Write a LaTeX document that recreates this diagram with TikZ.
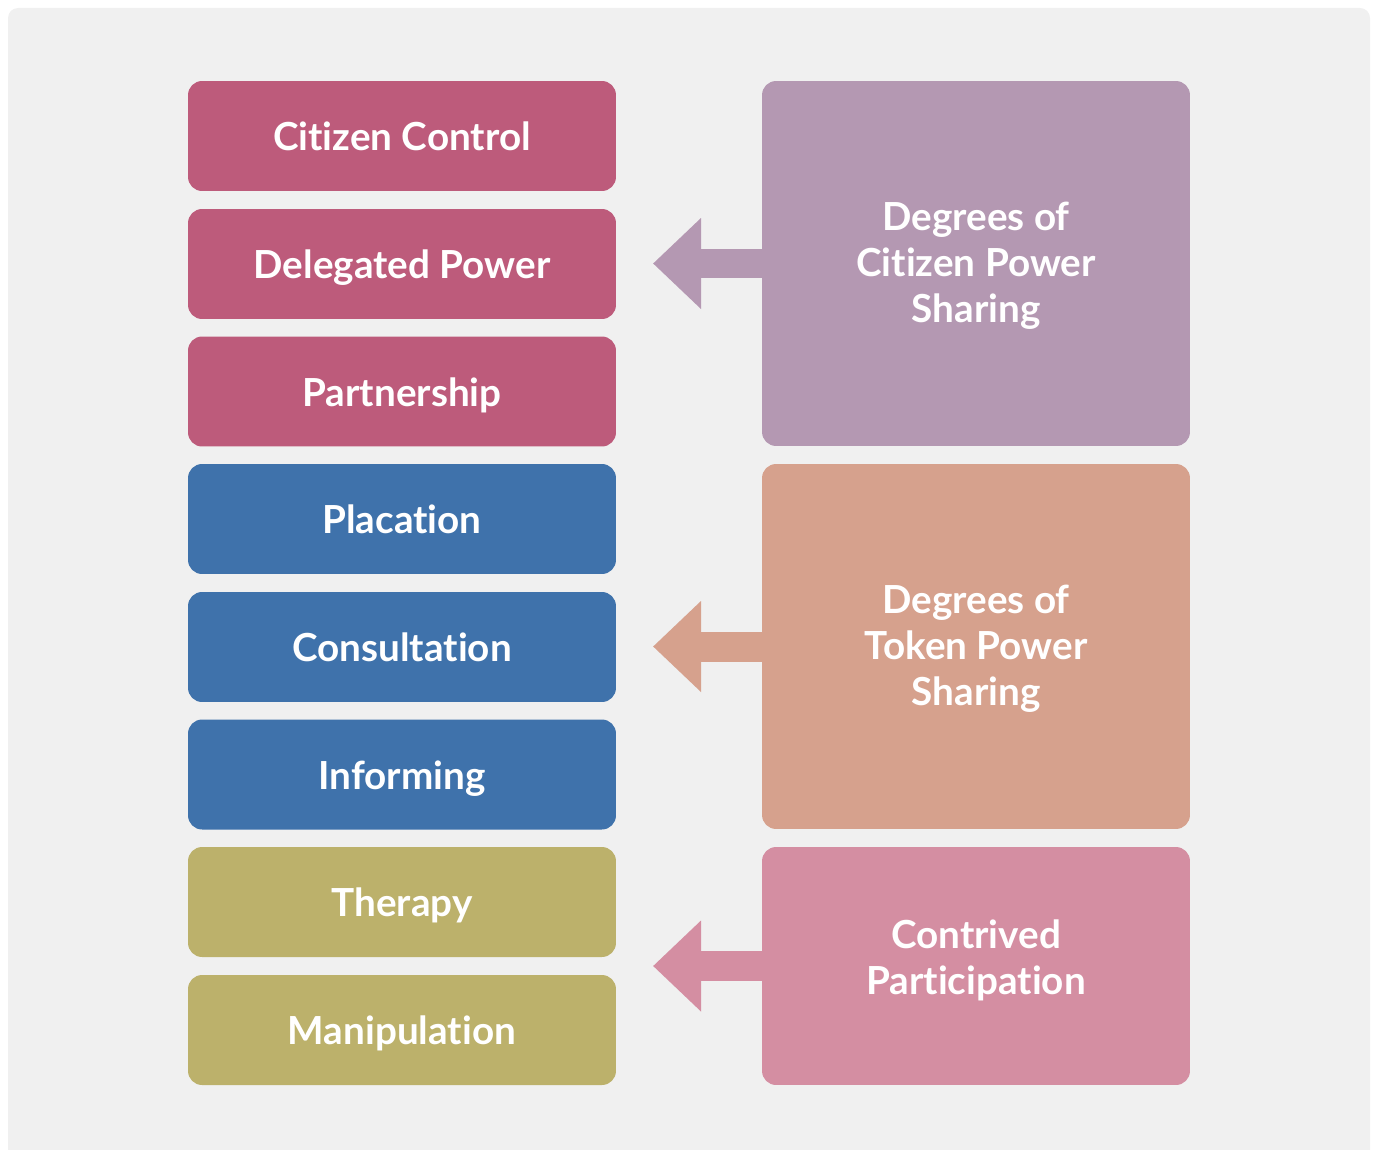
\documentclass[tikz,border=0pt]{standalone}
\usepackage{fontspec}
\setmainfont{Lato}[Ligatures={NoCommon,NoContextual}]
\usetikzlibrary{arrows.meta}
\definecolor{bgc}{HTML}{F0F0F0}
\definecolor{crim}{HTML}{BD5B7B}
\definecolor{purp}{HTML}{B498B2}
\definecolor{blu}{HTML}{3F72AB}
\definecolor{oliv}{HTML}{BCB16B}
\definecolor{salm}{HTML}{D6A18D}
\definecolor{pnk}{HTML}{D48EA2}
\begin{document}
\begin{tikzpicture}[x=0.02cm,y=-0.02cm,
  box/.style={rounded corners=0.28cm, minimum width=8.56cm, text=white,
    font=\fontsize{22}{26.2}\selectfont\bfseries, align=center, inner sep=0pt},
  lbox/.style={box, minimum height=2.2cm, text height=0.6cm, text depth=0.02cm},
  arr/.style={line width=0.6cm, -{Triangle[length=0.96cm, width=1.76cm]}}
]
\useasboundingbox (0,0) rectangle (1375,1149);
\fill[bgc, rounded corners=0.2cm] (8,8) rectangle (1370,1170);
% left column
\node[lbox, fill=crim] (l1) at (402,136) {Citizen Control};
\node[lbox, fill=crim] (l2) at (402,264) {Delegated Power};
\node[lbox, fill=crim] (l3) at (402,391.5) {Partnership};
\node[lbox, fill=blu] (l4) at (402,519) {Placation};
\node[lbox, fill=blu] (l5) at (402,647) {Consultation};
\node[lbox, fill=blu] (l6) at (402,774.5) {Informing};
\node[lbox, fill=oliv] (l7) at (402,902) {Therapy};
\node[lbox, fill=oliv] (l8) at (402,1030) {Manipulation};
% right column
\node[box, fill=purp, minimum height=7.3cm] (r1) at (976,263.5) {};
\node[box] (r1t) at (976,266) {Degrees of\\Citizen Power\\Sharing};
\node[box, fill=salm, minimum height=7.3cm] (r2) at (976,646.5) {};
\node[box] (r2t) at (976,649) {Degrees of\\Token Power\\Sharing};
\node[box, fill=pnk, minimum height=4.76cm] (r3) at (976,966) {};
\node[box] (r3t) at (976,960) {Contrived\\Participation};
% arrows
\coordinate (a1) at (653,263.5);
\coordinate (a2) at (653,646.5);
\coordinate (a3) at (653,966);
\draw[arr, purp] (r1.west) -- (a1);
\draw[arr, salm] (r2.west) -- (a2);
\draw[arr, pnk] (r3.west) -- (a3);
\end{tikzpicture}
\end{document}
